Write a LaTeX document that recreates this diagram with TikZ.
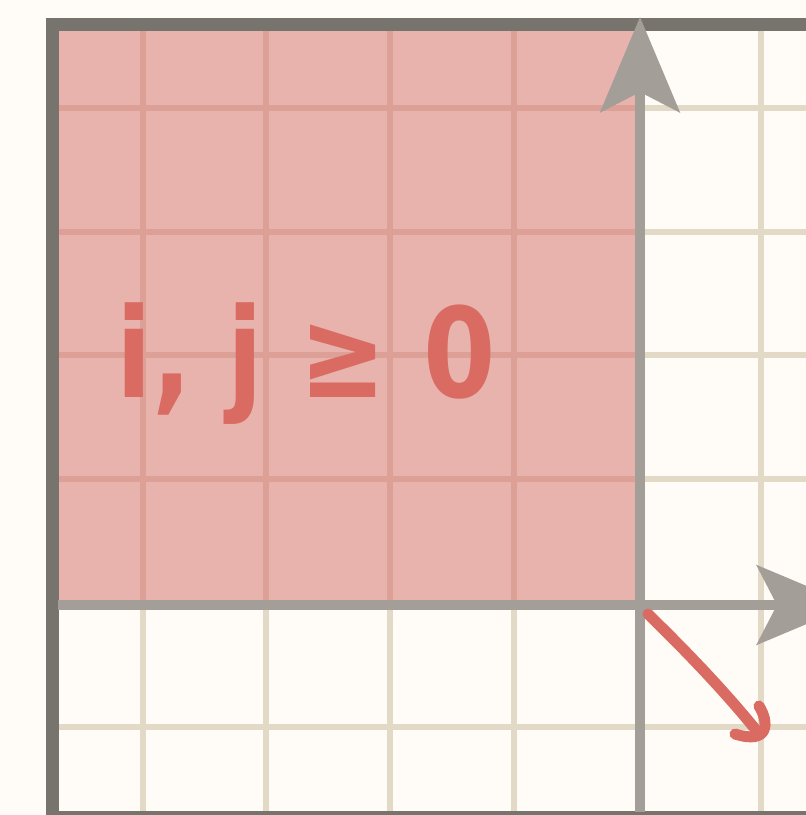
\documentclass[tikz,border=0pt]{standalone}
\usepackage{fontspec}
\newfontfamily\handfont{DejaVu Sans}
\usetikzlibrary{arrows.meta}
\definecolor{bgc}{HTML}{FFFCF7}
\definecolor{borderc}{HTML}{77736D}
\definecolor{axisc}{HTML}{A39E98}
\definecolor{pinkfillc}{HTML}{E8B3AD}
\definecolor{pinkgridc}{HTML}{DCA096}
\definecolor{creamgridc}{HTML}{E3D9C7}
\definecolor{redc}{HTML}{D96B62}
\tikzset{
  creamgrid/.style={draw=creamgridc, line width=5.5pt},
  pinkgrid/.style={draw=pinkgridc, line width=5.5pt},
  frameline/.style={draw=borderc, line width=13pt},
  axisline/.style={draw=axisc, line width=10.5pt, -{Stealth[length=95pt, width=79pt, inset=20pt]}},
  redline/.style={draw=redc, line width=11pt, line cap=round, line join=round},
  handtext/.style={text=redc, font=\handfont\bfseries\fontsize{104}{104}\selectfont, inner sep=0pt}
}
\begin{document}
\begin{tikzpicture}[x=1pt,y=1pt]
\useasboundingbox (0,0) rectangle (806,815);
\fill[bgc] (0,0) rectangle (806,815);
\clip (0,0) rectangle (806,815);
\begin{scope}[shift={(0,815)}, yscale=-1]
\fill[pinkfillc] (58,31) rectangle (640,605);
\foreach \x in {143,266,390,514,761} \draw[creamgrid] (\x,31) -- (\x,815);
\foreach \y in {108,232,355,479,727} \draw[creamgrid] (58,\y) -- (806,\y);
\begin{scope}
\clip (58,31) rectangle (640,605);
\foreach \x in {143,266,390,514} \draw[pinkgrid] (\x,31) -- (\x,815);
\foreach \y in {108,232,355,479} \draw[pinkgrid] (58,\y) -- (806,\y);
\end{scope}
% frame
\draw[frameline] (830,24.5) -- (52,24.5) -- (52,817.5) -- (830,817.5);
% axes
\coordinate (O) at (640,605);
\coordinate (ybot) at (640,812);
\coordinate (ytop) at (640,17);
\coordinate (xleft) at (58,605);
\coordinate (xright) at (852,605);
\draw[axisline] (ybot) -- (ytop);
\draw[axisline] (xleft) -- (xright);
% red arrow
\coordinate (rs) at (648,614);
\coordinate (re) at (756,730);
\coordinate (h1) at (759,706);
\coordinate (h2) at (735,734);
\draw[redline] (rs) .. controls (690,655) and (725,692) .. (re);
\draw[redline] (h1) .. controls (769,722) and (770,745) .. (h2);
% label
\node[handtext, anchor=base] (lbl) at (306,398) {\scalebox{1}[1.2]{i, j ≥ 0}};
\end{scope}
\end{tikzpicture}
\end{document}
